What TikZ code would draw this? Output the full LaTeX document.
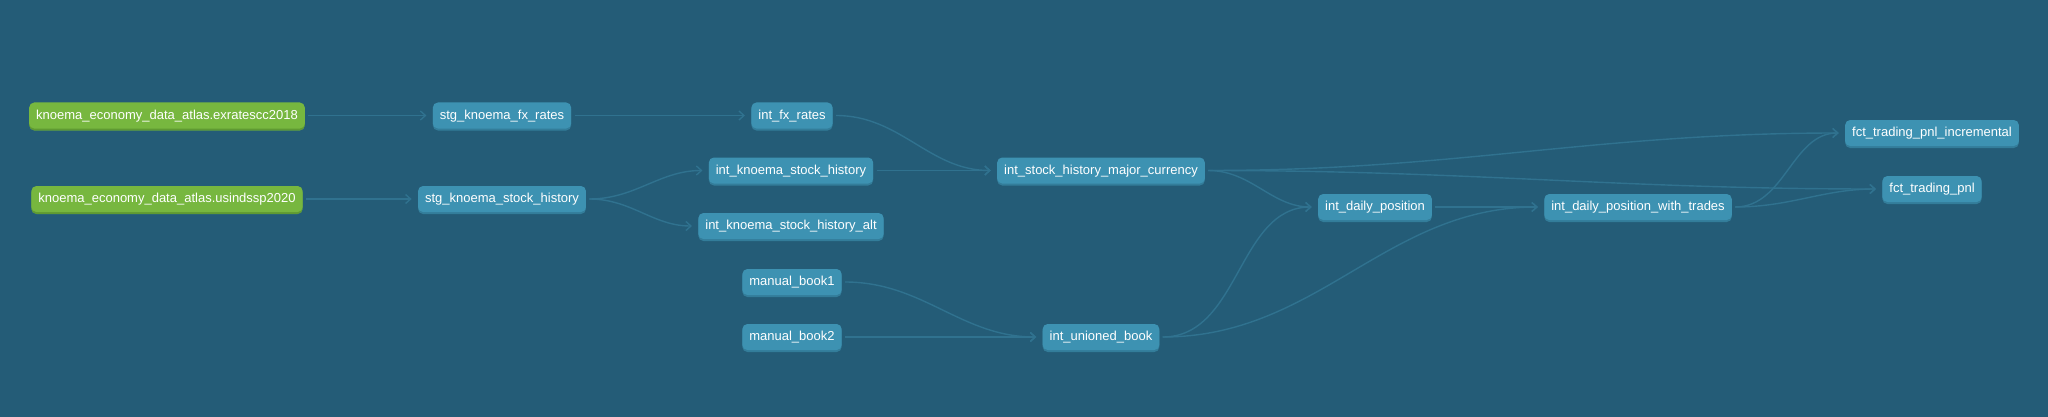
\documentclass[tikz,border=0pt]{standalone}
\usepackage{fontspec}
\setmainfont{Liberation Sans}
\usetikzlibrary{arrows.meta,shadows}

\definecolor{bgblue}{HTML}{245C77}
\definecolor{modelblue}{HTML}{3D92B2}
\definecolor{modelshade}{HTML}{337D9A}
\definecolor{srcgreen}{HTML}{77B73F}
\definecolor{srcshade}{HTML}{5F9A32}
\definecolor{linkblue}{HTML}{30728F}

\tikzset{
    model/.style={fill=modelblue, text=white, rounded corners=2.5pt,
        minimum height=13pt, inner xsep=3.5pt, inner ysep=0pt,
        text height=4.9pt, text depth=1.1pt,
        font=\fontsize{6.5}{7.8}\selectfont,
        drop shadow={shadow xshift=0pt, shadow yshift=-1pt, fill=modelshade, opacity=1}},
    source/.style={model, fill=srcgreen,
        drop shadow={shadow xshift=0pt, shadow yshift=-1pt, fill=srcshade, opacity=1}},
    link/.style={draw=linkblue, line width=0.7pt, shorten >=3pt, shorten <=1.5pt,
        -{Straight Barb[length=2.5pt,width=4.5pt]}}
}

\begin{document}
\begin{tikzpicture}[x=0.5pt,y=-0.5pt]
        \fill[bgblue] (0,0) rectangle (2048,417);
        \useasboundingbox (0,0) rectangle (2048,417);
        % sources
        \node[source] (exrates) at (167,115.5) {knoema\_economy\_data\_atlas.exratescc2018};
        \node[source] (usindssp) at (167,199) {knoema\_economy\_data\_atlas.usindssp2020};
        % staging
        \node[model] (stgfx) at (502,115.5) {stg\_knoema\_fx\_rates};
        \node[model] (stgstock) at (502,199) {stg\_knoema\_stock\_history};
        \node[model] (book1) at (792,282) {manual\_book1};
        \node[model] (book2) at (792,337) {manual\_book2};
        % intermediate
        \node[model] (intfx) at (792,115.5) {int\_fx\_rates};
        \node[model] (intstock) at (791,170.5) {int\_knoema\_stock\_history};
        \node[model] (intstockalt) at (791,226) {int\_knoema\_stock\_history\_alt};
        \node[model] (major) at (1101,170.5) {int\_stock\_history\_major\_currency};
        \node[model] (unioned) at (1101,337) {int\_unioned\_book};
        \node[model] (daily) at (1375,207) {int\_daily\_position};
        \node[model] (dailytrades) at (1638,207) {int\_daily\_position\_with\_trades};
        % facts
        \node[model] (pnlinc) at (1932,133) {fct\_trading\_pnl\_incremental};
        \node[model] (pnl) at (1932,189) {fct\_trading\_pnl};

        \draw[link] (exrates.east) -- (stgfx.west);
        \draw[link] (usindssp.east) -- (stgstock.west);
        \draw[link] (stgfx.east) -- (intfx.west);
        \draw[link] (stgstock.east) to[out=0,in=180] (intstock.west);
        \draw[link] (stgstock.east) to[out=0,in=180] (intstockalt.west);
        \draw[link] (intfx.east) to[out=0,in=180] (major.west);
        \draw[link] (intstock.east) -- (major.west);
        \draw[link] (major.east) to[out=0,in=180] (daily.west);
        \draw[link] (major.east) to[out=0,in=180] (pnlinc.west);
        \draw[link] (major.east) to[out=0,in=180] (pnl.west);
        \draw[link] (book1.east) to[out=0,in=180] (unioned.west);
        \draw[link] (book2.east) -- (unioned.west);
        \draw[link] (unioned.east) to[out=0,in=180] (daily.west);
        \draw[link] (unioned.east) to[out=0,in=180] (dailytrades.west);
        \draw[link] (daily.east) -- (dailytrades.west);
        \draw[link] (dailytrades.east) to[out=0,in=180] (pnlinc.west);
        \draw[link] (dailytrades.east) to[out=0,in=180] (pnl.west);
    \end{tikzpicture}
\end{document}
